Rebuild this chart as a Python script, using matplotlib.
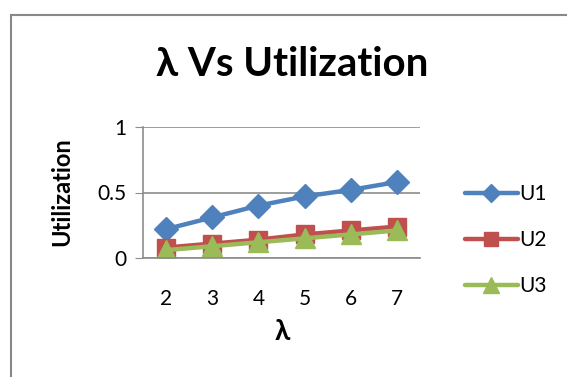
import matplotlib
matplotlib.use('Agg')
import matplotlib.pyplot as plt
from matplotlib.patches import Rectangle

plt.rcParams['font.family'] = ['Lato', 'DejaVu Sans']

lam = [2, 3, 4, 5, 6, 7]
u1 = [0.22, 0.31, 0.40, 0.47, 0.52, 0.58]
u2 = [0.08, 0.11, 0.14, 0.18, 0.21, 0.24]
u3 = [0.06, 0.09, 0.12, 0.15, 0.18, 0.21]
names = ['U1', 'U2', 'U3']
colors = ['#4F81BD', '#C0504D', '#9BBB59']
markers = ['D', 's', '^']
sizes = [12, 13, 14]

fig = plt.figure(figsize=(5.67, 3.77), dpi=100)
# chart area frame
fig.patches.append(Rectangle((11 / 567, -0.1), 1.2, 1 - 15 / 377 + 0.1,
                             transform=fig.transFigure, fill=False,
                             edgecolor='#888888', lw=1.5))

ax = fig.add_axes([143 / 567, 1 - 258 / 377, 277 / 567, 131 / 377])
lines = []
for ys, c, m, s, n in zip([u1, u2, u3], colors, markers, sizes, names):
    ln, = ax.plot(lam, ys, color=c, marker=m, markersize=s, lw=3.2,
                  solid_capstyle='round', label=n)
    lines.append(ln)

ax.set_xlim(1.5, 7.5)
ax.set_ylim(0, 1)
ax.set_yticks([0, 0.5, 1])
ax.set_yticklabels(['0', '0.5', '1'])
ax.set_xticks(lam)
ax.yaxis.grid(True, color='#8c8c8c', lw=1.2)
ax.set_axisbelow(True)
for side in ['top', 'right']:
    ax.spines[side].set_visible(False)
for side in ['left', 'bottom']:
    ax.spines[side].set_color('#8c8c8c')
    ax.spines[side].set_linewidth(1.2)
ax.tick_params(axis='y', length=6, color='#8c8c8c', labelsize=15, pad=6)
ax.tick_params(axis='x', length=0, labelsize=15, pad=22)
for lab in ax.get_xticklabels() + ax.get_yticklabels():
    lab.set_clip_on(False)

fig.text(292 / 567, 1 - 64 / 377, 'λ Vs Utilization', ha='center', va='center',
         fontsize=29, fontweight='bold')
fig.text(62 / 567, 1 - 192 / 377, 'Utilization', rotation=90, ha='center',
         va='center', fontsize=17, fontweight='bold')
fig.text(282 / 567, 1 - 332 / 377, 'λ', ha='center', va='center',
         fontsize=20, fontweight='bold')

fig.legend(handles=lines, loc='center left',
           bbox_to_anchor=(455 / 567, 1 - 240 / 377), frameon=False,
           fontsize=15, handlelength=2.5, handletextpad=0.1,
           labelspacing=1.25, borderpad=0, markerscale=0.8)

fig.savefig('out.png', dpi=100)
